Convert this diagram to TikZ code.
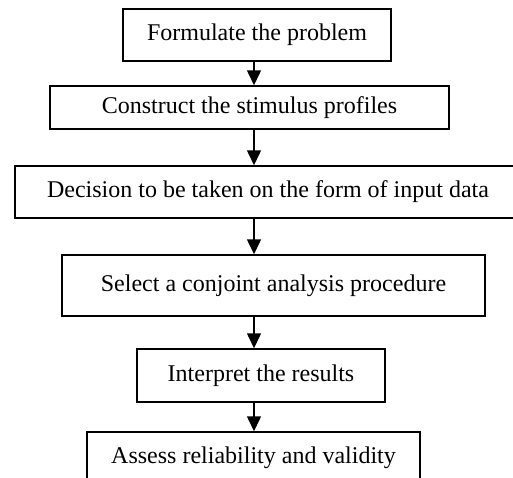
\documentclass[tikz,border=0pt]{standalone}
\usepackage{fontspec}
\setmainfont{Liberation Serif}
\usetikzlibrary{arrows.meta}
\begin{document}
\begin{tikzpicture}[x=1pt,y=-1pt,
  stepbox/.style={draw=black,line width=1.5pt,inner sep=0pt,align=center,
    font=\fontsize{24}{28}\selectfont},
  flow/.style={line width=1.5pt,-{Triangle[length=15pt,width=14pt]}}]
\useasboundingbox (0,0) rectangle (513,477);
\clip (0,0) rectangle (513,477);
\node[stepbox,minimum width=268pt,minimum height=52pt] (b1) at (257,35) {Formulate the problem};
\node[stepbox,minimum width=399pt,minimum height=43pt] (b2) at (249.5,107.5) {Construct the stimulus profiles};
\node[stepbox,minimum width=506pt,minimum height=52pt] (b3) at (268,192) {Decision to be taken on the form of input data};
\node[stepbox,minimum width=423pt,minimum height=61pt] (b4) at (273.5,285.5) {Select a conjoint analysis procedure};
\node[stepbox,minimum width=248pt,minimum height=53pt] (b5) at (261,375.5) {Interpret the results};
\node[stepbox,minimum width=333pt,minimum height=52pt] (b6) at (253.5,458) {Assess reliability and validity};
\coordinate (ax) at (254,0);
\draw[flow] (b1.south -| ax) -- (b2.north -| ax);
\draw[flow] (b2.south -| ax) -- (b3.north -| ax);
\draw[flow] (b3.south -| ax) -- (b4.north -| ax);
\draw[flow] (b4.south -| ax) -- (b5.north -| ax);
\draw[flow] (b5.south -| ax) -- (b6.north -| ax);
\end{tikzpicture}
\end{document}
